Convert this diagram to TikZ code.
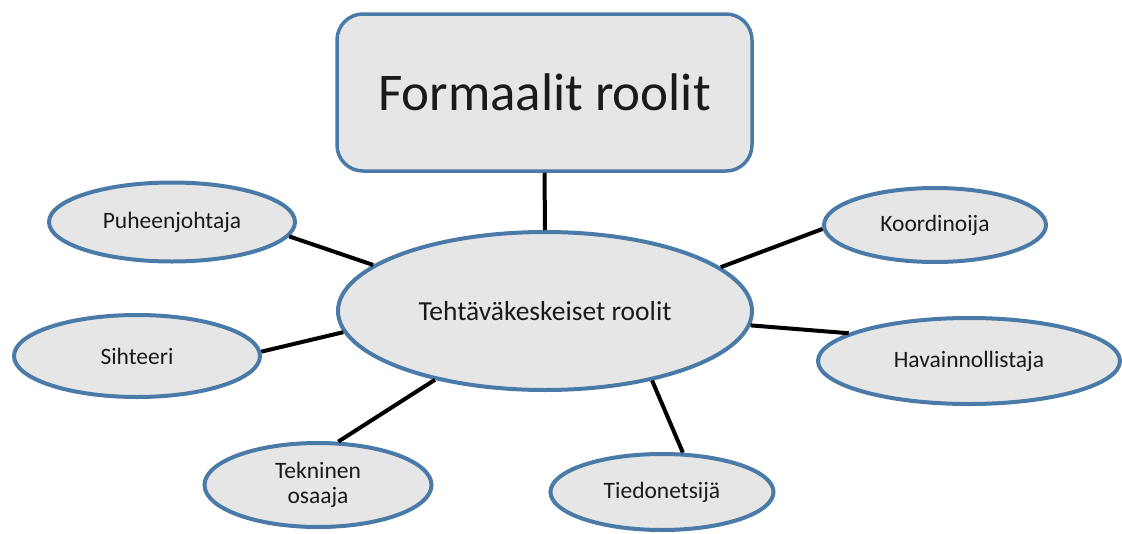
\documentclass[tikz,border=0pt]{standalone}
\usepackage{fontspec}
\setmainfont{Carlito}
\usetikzlibrary{shapes.geometric}
\definecolor{fillgrey}{HTML}{E6E6E6}
\definecolor{edgeblue}{HTML}{4A7AA8}
\definecolor{txt}{HTML}{1A1A1A}
\tikzset{
  role/.style={ellipse, draw=edgeblue, fill=fillgrey, line width=4pt, inner sep=0pt, text=txt, font=\fontsize{23.5}{26}\selectfont, align=center},
  topbox/.style={rectangle, rounded corners=26pt, draw=edgeblue, fill=fillgrey, line width=3.5pt, inner sep=0pt, text=txt, font=\fontsize{53}{60}\selectfont},
  link/.style={draw=black, line width=4pt}
}
\begin{document}
\begin{tikzpicture}[x=1pt,y=-1pt]
\useasboundingbox (0,0) rectangle (1122,533);
\node[topbox, minimum width=415pt, minimum height=157pt] (top) at (544.5,92.5) {Formaalit roolit};
\node[role, minimum width=414pt, minimum height=158pt, font=\fontsize{27.5}{32}\selectfont] (main) at (545,311) {Tehtäväkeskeiset roolit};
\node[role, minimum width=246pt, minimum height=79pt] (puh) at (172,222) {Puheenjohtaja};
\node[role, minimum width=246pt, minimum height=82pt] (sih) at (137,356) {Sihteeri};
\node[role, minimum width=227pt, minimum height=84pt, font=\fontsize{23.5}{25}\selectfont] (tek) at (318,485) {Tekninen\\osaaja};
\node[role, minimum width=223pt, minimum height=76pt] (tie) at (662,492) {Tiedonetsijä};
\node[role, minimum width=222pt, minimum height=74pt] (koo) at (935,225) {Koordinoija};
\node[role, minimum width=302pt, minimum height=86pt] (hav) at (969,361) {Havainnollistaja};
\draw[link] (top.south) -- (main.north);
\draw[link] (puh.-7) -- (main.165);
\draw[link] (sih.2) -- (main.186);
\draw[link] (tek.65) -- (main.212);
\draw[link] (tie.62) -- (main.-33);
\draw[link] (koo.182) -- (main.14);
\draw[link] (hav.167) -- (main.-4);
\end{tikzpicture}
\end{document}
